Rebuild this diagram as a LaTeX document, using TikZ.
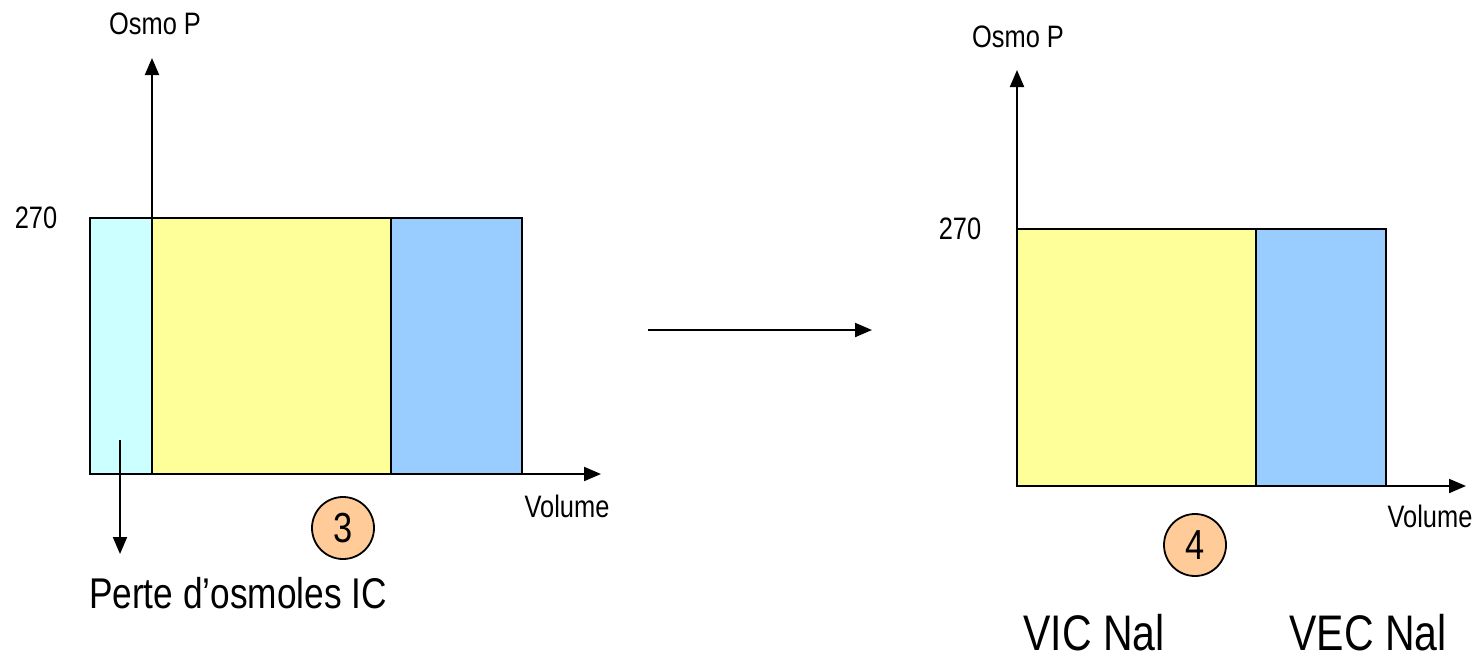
\documentclass[tikz,border=0pt]{standalone}
\usepackage{fontspec}
\setmainfont[FakeStretch=0.82]{Liberation Sans}
\usetikzlibrary{arrows.meta}
\definecolor{cytoCyan}{HTML}{CCFFFF}
\definecolor{icYellow}{HTML}{FFFF99}
\definecolor{ecBlue}{HTML}{99CCFF}
\definecolor{stepOrange}{HTML}{FFCC99}
\tikzset{
  axis/.style={line width=2pt, -{Triangle[length=17pt,width=14pt]}},
  compart/.style={draw, line width=2.2pt, inner sep=0pt, outer sep=0pt, anchor=north west},
  stepnum/.style={circle, draw, line width=1.8pt, fill=stepOrange, minimum size=62pt, inner sep=0pt, font=\fontsize{42}{46}\selectfont},
  lbl/.style={inner sep=0pt, font=\fontsize{31}{35}\selectfont},
  biglbl/.style={inner sep=0pt, font=\fontsize{43}{50}\selectfont},
}
\begin{document}
\begin{tikzpicture}[x=1pt,y=-1pt]
\useasboundingbox (0,0) rectangle (1480,664);

% ---- left panel: state 3 ----
\node[compart, fill=cytoCyan, line width=1.5pt, minimum width=62pt, minimum height=256pt] (cyanL) at (90,218) {};
\node[compart, fill=icYellow, minimum width=239pt, minimum height=256pt] (vicL) at (152,218) {};
\node[compart, fill=ecBlue, minimum width=131pt, minimum height=256pt] (vecL) at (391,218) {};
\coordinate (yL0) at (152,474);
\coordinate (yL1) at (152,58);
\coordinate (xL0) at (90,474);
\coordinate (xL1) at (601,474);
\draw[axis] (yL0) -- (yL1);
\draw[axis] (xL0) -- (xL1);
\node[lbl] (osmoL) at (155,24) {Osmo P};
\node[lbl] (tickL) at (36,218) {270};
\node[lbl] (volL) at (567,506) {Volume};
\node[stepnum] (s3) at (343,528) {3};
\coordinate (lossA) at (120,440);
\coordinate (lossB) at (120,554);
\draw[axis] (lossA) -- (lossB);
\node[biglbl] (loss) at (238,593) {Perte d’osmoles IC};

% ---- transition ----
\coordinate (tA) at (648,330);
\coordinate (tB) at (872,330);
\draw[axis] (tA) -- (tB);

% ---- right panel: state 4 ----
\node[compart, fill=icYellow, minimum width=239pt, minimum height=257pt] (vicR) at (1017,229) {};
\node[compart, fill=ecBlue, minimum width=130pt, minimum height=257pt] (vecR) at (1256,229) {};
\coordinate (yR0) at (1017,486);
\coordinate (yR1) at (1017,70);
\coordinate (xR0) at (1017,486);
\coordinate (xR1) at (1466,486);
\draw[axis] (yR0) -- (yR1);
\draw[axis] (xR0) -- (xR1);
\node[lbl] (osmoR) at (1018,37) {Osmo P};
\node[lbl] (tickR) at (960,229) {270};
\node[lbl] (volR) at (1430,516) {Volume};
\node[stepnum] (s4) at (1195,545) {4};
\node[biglbl, font=\fontsize{50}{56}\selectfont] (vicLbl) at (1094,633) {VIC Nal};
\node[biglbl, font=\fontsize{50}{56}\selectfont] (vecLbl) at (1368,633) {VEC Nal};
\end{tikzpicture}
\end{document}
